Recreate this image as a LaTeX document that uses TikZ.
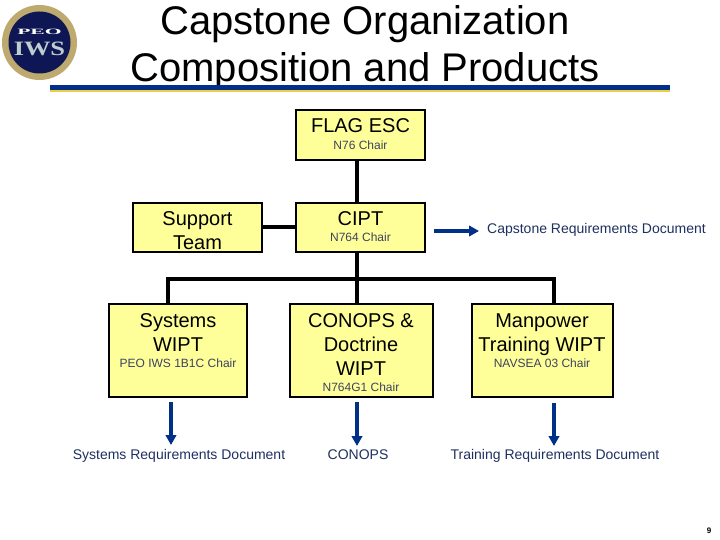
\documentclass[tikz,border=0pt]{standalone}
\usepackage{fontspec}
\setmainfont{Liberation Sans}
\newfontfamily\sealfont{Liberation Serif}
\usepackage{tikz}
\usepackage{xcolor}
\usetikzlibrary{arrows.meta, positioning, calc}
\definecolor{boxyellow}{RGB}{255,255,153}
\definecolor{flownavy}{RGB}{0,48,135}
\definecolor{labelnavy}{RGB}{30,48,96}
\definecolor{chairgray}{RGB}{60,66,96}
\definecolor{rulegold}{RGB}{240,205,70}
\definecolor{sealnavy}{RGB}{14,22,84}
\definecolor{sealgold}{RGB}{190,170,110}
\definecolor{sealpale}{RGB}{190,205,205}

\begin{document}
\begin{tikzpicture}[
    x=1pt, y=-1pt,
    boxnode/.style={draw=black, line width=2pt, fill=boxyellow, inner sep=0pt, outer sep=0pt, anchor=north west},
    headtext/.style={align=center, text=black, inner sep=0pt, font=\fontsize{20}{24}\selectfont},
    chairtext/.style={text=chairgray, inner sep=0pt, font=\fontsize{12}{14}\selectfont},
    doctext/.style={text=labelnavy, inner sep=0pt, font=\fontsize{14}{16}\selectfont},
    orgline/.style={line width=4pt, black},
    flowarrow/.style={line width=3.2pt, flownavy, -{Triangle[width=10.5pt,length=10pt]}}
]
\useasboundingbox (0,0) rectangle (720,540);
% titolo
\node[align=center, inner sep=0pt, font=\fontsize{40}{47}\selectfont] (title) at (365,48)
    {Capstone Organization\\Composition and Products};
\fill[flownavy] (50,85) rectangle (670,90);
\fill[rulegold] (50,90) rectangle (670,92);
% logo
\fill[sealgold] (39.5,42.5) circle (37.5);
\fill[sealnavy] (39.5,42.5) circle (31);
\node[font=\sealfont\bfseries\fontsize{9}{9}\selectfont, text=white, inner sep=0pt] (peo) at (39.5,32) {\scalebox{2.4}[0.9]{PEO}};
\node[font=\sealfont\bfseries\fontsize{24}{24}\selectfont, text=sealpale, inner sep=0pt] (iws) at (39.5,49) {\scalebox{1.1}[0.85]{IWS}};
% box
\node[boxnode, minimum width=129pt, minimum height=50pt] (flag) at (296,110) {};
\node[boxnode, minimum width=129pt, minimum height=49pt] (cipt) at (296,203) {};
\node[boxnode, minimum width=129pt, minimum height=49pt] (support) at (133,203) {};
\node[boxnode, minimum width=138pt, minimum height=93pt] (systems) at (109,304) {};
\node[boxnode, minimum width=143pt, minimum height=93pt] (conops) at (290,304) {};
\node[boxnode, minimum width=141pt, minimum height=93pt] (manpower) at (472,304) {};
% testi dei box
\node[headtext] (flaghead) at (360.5,126) {FLAG ESC};
\node[chairtext] (flagchair) at (360.5,145.5) {N76 Chair};
\node[headtext] (cipthead) at (360.5,219) {CIPT};
\node[chairtext] (ciptchair) at (360.5,237.5) {N764 Chair};
\node[headtext] (supporthead) at (197.5,231) {Support\\Team};
\node[headtext] (systemshead) at (178,333) {Systems\\WIPT};
\node[chairtext] (systemschair) at (178,363.5) {PEO IWS 1B1C Chair};
\node[headtext] (conopshead) at (361,345) {CONOPS \&\\Doctrine\\WIPT};
\node[chairtext] (conopschair) at (361,387.5) {N764G1 Chair};
\node[headtext] (manpowerhead) at (542,335) {Manpower\\Training WIPT};
\node[chairtext] (manpowerchair) at (542,363.5) {NAVSEA 03 Chair};
% documenti
\node[doctext] (crd) at (596.5,230) {Capstone Requirements Document};
\node[doctext] (srd) at (179,456) {Systems Requirements Document};
\node[doctext] (condoc) at (358,455) {CONOPS};
\node[doctext] (trd) at (555,456) {Training Requirements Document};
% linee organigramma
\coordinate (stem) at (357,279);
\coordinate (busleft) at (168,279);
\coordinate (busright) at (554,279);
\draw[orgline] (stem |- flag.south) -- (stem |- cipt.north);
\draw[orgline] (support.east) -- (cipt.west |- support.east);
\draw[orgline] (stem |- cipt.south) -- (stem |- conops.north);
\draw[orgline, line join=miter] (busleft |- systems.north) -- (busleft) -- (busright) -- (busright |- manpower.north);
% frecce
\coordinate (crdstart) at (434,231);
\coordinate (crdend) at (479,231);
\coordinate (srdstart) at (171,402);
\coordinate (constart) at (357,402);
\coordinate (trdstart) at (554,403);
\draw[flowarrow] (crdstart) -- (crdend);
\draw[flowarrow] (srdstart) -- (srdstart |- 0,445);
\draw[flowarrow] (constart) -- (constart |- 0,446);
\draw[flowarrow] (trdstart) -- (trdstart |- 0,446);
% numero pagina
\node[font=\bfseries\fontsize{8}{8}\selectfont, inner sep=0pt] (pagenum) at (709,531) {9};
\end{tikzpicture}
\end{document}
